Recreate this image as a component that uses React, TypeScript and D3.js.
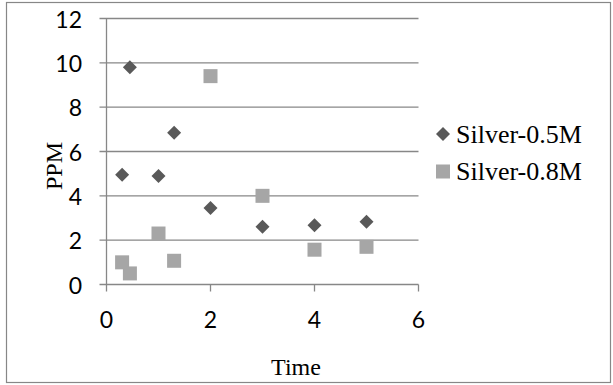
import React from "react";
import * as d3 from "d3";

// Data
const timeA = [0.3, 0.45, 1, 1.3, 2, 3, 4, 5];
const ppmA = [4.95, 9.8, 4.9, 6.85, 3.45, 2.6, 2.67, 2.83];
const timeB = [0.3, 0.45, 1, 1.3, 2, 3, 4, 5];
const ppmB = [1.0, 0.5, 2.3, 1.07, 9.4, 4.0, 1.57, 1.7];
const seriesNames = ["Silver-0.5M", "Silver-0.8M"];
const xTicks = [0, 2, 4, 6];
const yTicks = [0, 2, 4, 6, 8, 10, 12];

const W = 613;
const H = 385;
const plot = { left: 106.5, right: 418.5, top: 18.5, bottom: 284.5 };

const colA = "#595959";
const colB = "#a6a6a6";
const axisCol = "#878787";
const tickFont = "Lato, 'Open Sans', sans-serif";
const serif = "'Liberation Serif', 'Times New Roman', serif";

function Diamond({ cx, cy, r, fill }: { cx: number; cy: number; r: number; fill: string }) {
  return (
    <path
      d={`M${cx},${cy - r}L${cx + r},${cy}L${cx},${cy + r}L${cx - r},${cy}Z`}
      fill={fill}
    />
  );
}

export default function App() {
  const x = d3.scaleLinear().domain([0, 6]).range([plot.left, plot.right]);
  const y = d3.scaleLinear().domain([0, 12]).range([plot.bottom, plot.top]);
  const sq = 14;

  return (
    <svg
      width={W}
      height={H}
      style={{ position: "absolute", left: 0, top: 0, background: "#fff" }}
    >
      <rect x={6.5} y={2.5} width={604} height={380} fill="#fff" stroke={axisCol} strokeWidth={1.2} />

      {/* gridlines and y ticks */}
      {yTicks.map((t) => (
        <g key={"y" + t}>
          <line x1={plot.left - 7} x2={plot.right} y1={y(t)} y2={y(t)} stroke={axisCol} strokeWidth={1.3} />
          <text
            x={82}
            y={y(t)}
            textAnchor="end"
            dominantBaseline="central"
            fontFamily={tickFont}
            fontSize={23}
            fill="#000"
          >
            {t}
          </text>
        </g>
      ))}
      <line x1={plot.left} x2={plot.left} y1={plot.top} y2={plot.bottom} stroke={axisCol} strokeWidth={1.3} />

      {/* x ticks */}
      {xTicks.map((t) => (
        <g key={"x" + t}>
          <line x1={x(t)} x2={x(t)} y1={plot.bottom} y2={plot.bottom + 7} stroke={axisCol} strokeWidth={1.3} />
          <text
            x={x(t)}
            y={318.5}
            textAnchor="middle"
            dominantBaseline="central"
            fontFamily={tickFont}
            fontSize={23}
            fill="#000"
          >
            {t}
          </text>
        </g>
      ))}

      {/* series */}
      {timeB.map((t, i) => (
        <rect key={"b" + i} x={x(t) - sq / 2} y={y(ppmB[i]) - sq / 2} width={sq} height={sq} fill={colB} />
      ))}
      {timeA.map((t, i) => (
        <Diamond key={"a" + i} cx={x(t)} cy={y(ppmA[i])} r={7} fill={colA} />
      ))}

      {/* axis titles */}
      <text x={296} y={375} textAnchor="middle" fontFamily={serif} fontSize={24} fill="#000">
        Time
      </text>
      <text
        transform="translate(62,166) rotate(-90)"
        textAnchor="middle"
        fontFamily={serif}
        fontSize={24}
        fill="#000"
      >
        PPM
      </text>

      {/* legend */}
      <Diamond cx={443} cy={134} r={7} fill={colA} />
      <text x={456} y={143} fontFamily={serif} fontSize={26} fill="#000">
        {seriesNames[0]}
      </text>
      <rect x={436} y={164.5} width={14} height={14} fill={colB} />
      <text x={456} y={180} fontFamily={serif} fontSize={26} fill="#000">
        {seriesNames[1]}
      </text>
    </svg>
  );
}
